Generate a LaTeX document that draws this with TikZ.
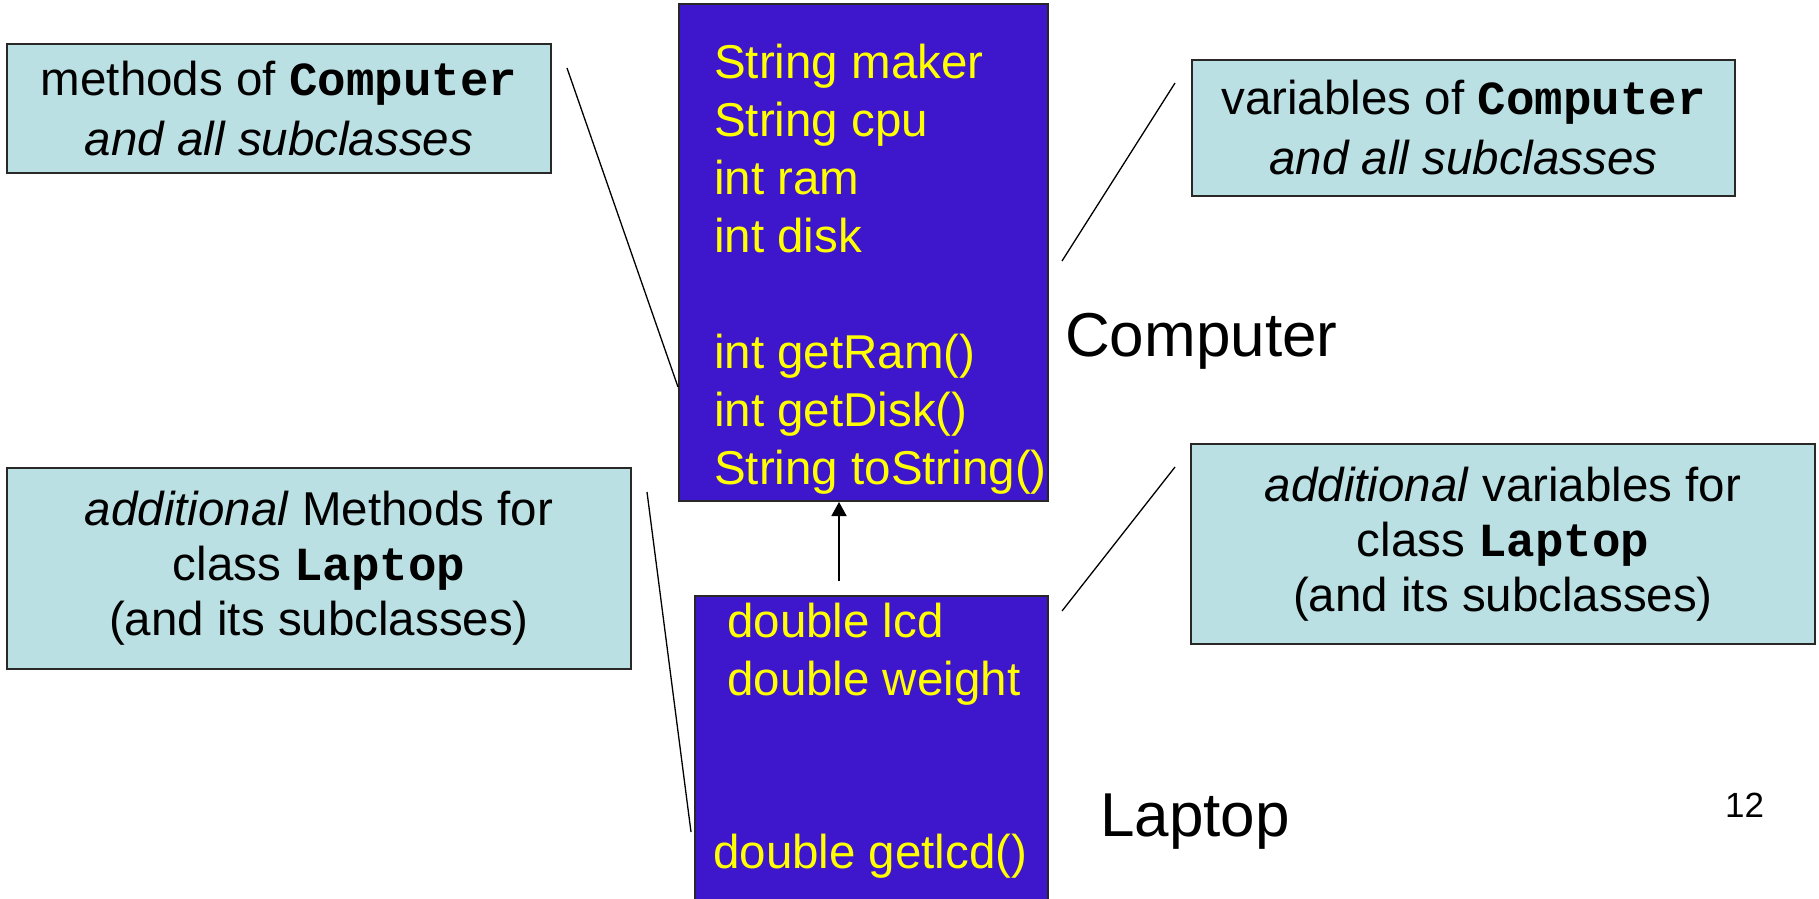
\documentclass[tikz,border=0pt]{standalone}
\usepackage{fontspec}
\setmainfont{Liberation Sans}
\newfontfamily\codefont{Liberation Mono}
\usetikzlibrary{arrows.meta}
\definecolor{notefill}{RGB}{187,224,227}
\definecolor{classfill}{RGB}{62,22,204}
\definecolor{classtext}{RGB}{255,255,0}
\definecolor{edgegray}{RGB}{40,40,40}
\newcommand{\cls}[1]{{\codefont\bfseries #1}}
\begin{document}
\begin{tikzpicture}[x=1pt,y=-1pt,
  note/.style={draw=edgegray, line width=2pt, fill=notefill, inner sep=0pt, align=center},
  twoline/.style={font=\fontsize{47.5}{60}\selectfont},
  threeline/.style={font=\fontsize{47.5}{55}\selectfont},
  classbox/.style={draw=edgegray, line width=2pt, fill=classfill, inner sep=0pt},
  member/.style={anchor=base west, inner sep=0pt, text=classtext, font=\fontsize{47.5}{57}\selectfont},
  classname/.style={anchor=base west, inner sep=0pt, font=\fontsize{62}{70}\selectfont},
  callout/.style={line width=1.3pt, black},
  inherit/.style={line width=1.8pt, -{Triangle[width=15pt,length=14pt]}}
]
\useasboundingbox (0,0) rectangle (1819,898);

% class boxes
\node[classbox, minimum width=369pt, minimum height=497pt] (computer) at (863.5,252.5) {};
\node[classbox, minimum width=353pt, minimum height=314pt] (laptop) at (871.5,753) {};

% members of Computer
\node[member] (c1) at (714,78) {String maker};
\node[member] (c2) at (714,136) {String cpu};
\node[member] (c3) at (714,194) {int ram};
\node[member] (c4) at (714,252) {int disk};
\node[member] (c5) at (714,368) {int getRam()};
\node[member] (c6) at (714,426) {int getDisk()};
\node[member] (c7) at (714,484) {String toString()};

% members of Laptop
\node[member] (l1) at (727,637) {double lcd};
\node[member] (l2) at (727,695) {double weight};
\node[member] (l3) at (713,868) {double getlcd()};

% class names
\node[classname] (cname) at (1065,356) {Computer};
\node[classname] (lname) at (1100,836) {Laptop};
\node[anchor=base west, inner sep=0pt, font=\fontsize{35}{40}\selectfont] (pagenum) at (1725,817) {12};

% notes
\node[note, twoline, minimum width=544pt, minimum height=129pt] (mC) at (279,108.5)
  {methods of \cls{Computer}\\\textit{and all subclasses}};
\node[note, twoline, minimum width=543pt, minimum height=136pt] (vC) at (1463.5,128)
  {variables of \cls{Computer}\\\textit{and all subclasses}};
\node[note, threeline, minimum width=624pt, minimum height=201pt] (mL) at (319,568.5)
  {\textit{additional} Methods for\\class \cls{Laptop}\\(and its subclasses)};
\node[note, threeline, minimum width=624pt, minimum height=200pt] (vL) at (1503,544)
  {\textit{additional} variables for\\class \cls{Laptop}\\(and its subclasses)};

% callout lines
\coordinate (k1) at (567,68);
\coordinate (k2) at (647,492);
\coordinate (k3a) at (1175,83);
\coordinate (k3b) at (1062,261);
\coordinate (k4a) at (1175,467);
\coordinate (k4b) at (1062,611);
\draw[callout] (k1) -- ([yshift=-384pt]computer.north west);
\draw[callout] (k2) -- ([shift={(-3pt,-237pt)}]laptop.north west);
\draw[callout] (k3a) -- (k3b);
\draw[callout] (k4a) -- (k4b);

% inheritance arrow
\coordinate (a0) at (839,581);
\draw[inherit] (a0) -- (a0 |- computer.south);
\end{tikzpicture}
\end{document}
